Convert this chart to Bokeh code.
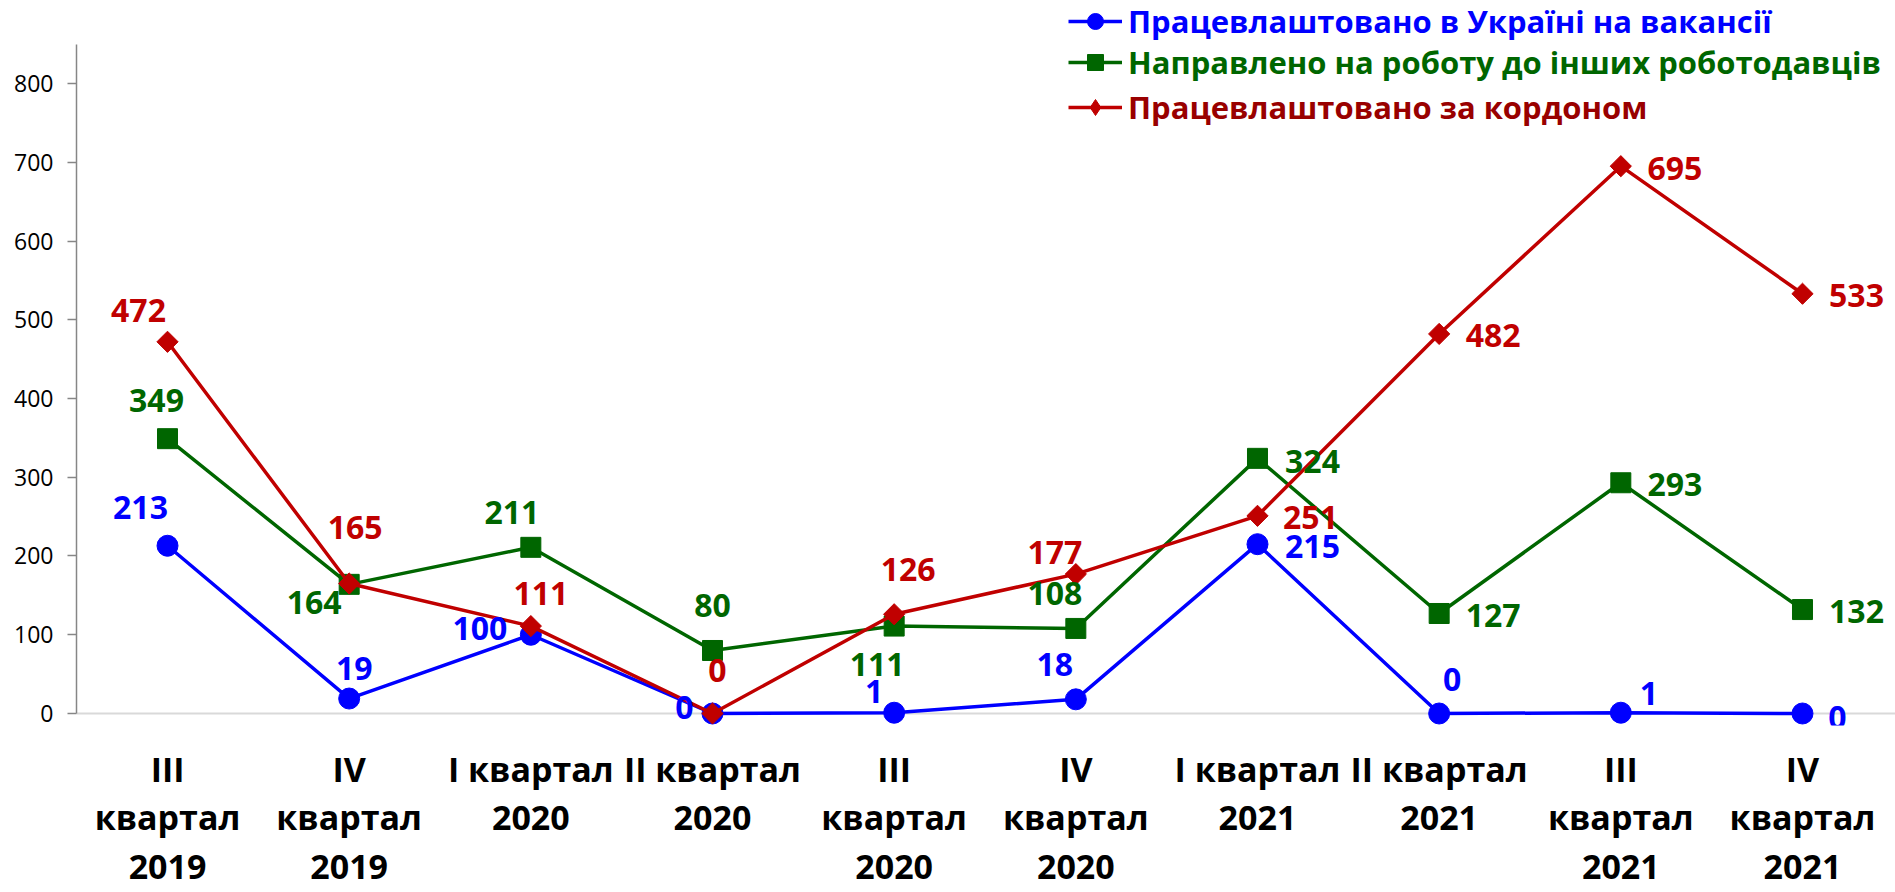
import numpy as np
from bokeh.plotting import figure
from bokeh.models import (ColumnDataSource, Range1d, FixedTicker, SingleIntervalTicker,
                          LinearAxis, Span, Legend, LegendItem)
from bokeh.core.properties import value
from bokeh.embed import file_html
from bokeh.resources import INLINE

# ---------------- data ----------------
quarters = [
    "III\nквартал\n2019", "IV\nквартал\n2019", "I квартал\n2020", "II квартал\n2020",
    "III\nквартал\n2020", "IV\nквартал\n2020", "I квартал\n2021", "II квартал\n2021",
    "III\nквартал\n2021", "IV\nквартал\n2021",
]
employed_ukraine = [213, 19, 100, 0, 1, 18, 215, 0, 1, 0]
referred_other = [349, 164, 211, 80, 111, 108, 324, 127, 293, 132]
employed_abroad = [472, 165, 111, 0, 126, 177, 251, 482, 695, 533]
series_names = [
    "Працевлаштовано в Україні на вакансії",
    "Направлено на роботу до інших роботодавців",
    "Працевлаштовано за кордоном",
]

# label offsets (screen px, dy positive = down), styles only
blue_dx = [-27, 5, -51, -28, -20, -21, 55, 13, 28, 35]
blue_dy = [-38, -30, -6, -6, -21, -35, 2, -34, -19, 4]
green_dx = [-11, -35, -19, 0, -17, -21, 55, 54, 54, 54]
green_dy = [-38, 18, -35, -45, 38, -35, 3, 2, 2, 2]
red_dx = [-29, 6, 10, 5, 14, -21, 53, 54, 54, 54]
red_dy = [-31, -56, -33, -43, -45, -22, 2, 2, 2, 2]

FONT = "Open Sans"
BLUE = "#0000FF"
GREEN = "#006600"
RED = "#C00000"

x = list(range(len(quarters)))

p = figure(width=1895, height=892, output_backend="svg", toolbar_location=None,
           x_range=Range1d(-0.501, 9.512), y_range=Range1d(-15.24, 905.4),
           min_border_left=76, min_border_right=0, min_border_top=0,
           min_border_bottom=167, x_axis_location=None, y_axis_location=None)
p.outline_line_color = None
p.xgrid.visible = False
p.ygrid.visible = False

# y axis
yaxis = LinearAxis(bounds=(0, 850), ticker=SingleIntervalTicker(interval=100, num_minor_ticks=0))
yaxis.axis_line_color = "#868686"
yaxis.axis_line_width = 1.5
yaxis.major_tick_line_color = "#868686"
yaxis.major_tick_line_width = 1.5
yaxis.major_tick_out = 9
yaxis.major_tick_in = 0
yaxis.minor_tick_out = 0
yaxis.minor_tick_in = 0
yaxis.major_label_text_font = FONT
yaxis.major_label_text_font_size = "23px"
yaxis.major_label_text_color = "black"
yaxis.major_label_standoff = 14
p.add_layout(yaxis, "left")

# x axis
xaxis = LinearAxis(ticker=FixedTicker(ticks=x),
                   major_label_overrides={i: q for i, q in zip(x, quarters)})
xaxis.axis_line_color = None
xaxis.major_tick_out = 0
xaxis.major_tick_in = 0
xaxis.minor_tick_out = 0
xaxis.minor_tick_in = 0
xaxis.major_label_text_font = FONT
xaxis.major_label_text_font_size = "34px"
xaxis.major_label_text_font_style = "bold"
xaxis.major_label_text_color = "black"
xaxis.major_label_text_line_height = 1.06
xaxis.major_label_standoff = 20
p.add_layout(xaxis, "below")

# zero line
p.add_layout(Span(location=0, dimension="width", line_color="#d9d9d9", line_width=2, level="underlay"))

series = [
    (employed_ukraine, BLUE, BLUE, "circle", 21, 0.0, blue_dx, blue_dy, BLUE, "circle"),
    (referred_other, GREEN, GREEN, "square", 20, 0.0, green_dx, green_dy, GREEN, "square"),
    (employed_abroad, RED, RED, "square", 15, np.pi / 4, red_dx, red_dy, "#990000", "diamond"),
]

renderers = []
for vals, lc, lab_c, marker, size, ang, dx, dy, leg_c, leg_marker in series:
    src = ColumnDataSource(dict(x=x, y=vals))
    l = p.line("x", "y", source=src, line_color=lc, line_width=3.5)
    leg_r = None
    if leg_marker != marker:
        # diamond drawn underneath (fully covered by the rotated square); gives the legend its diamond
        leg_r = p.scatter("x", "y", source=src, marker=leg_marker, size=19,
                          fill_color=lc, line_color=lc)
    s = p.scatter("x", "y", source=src, marker=marker, size=size, angle=ang,
                  fill_color=lc, line_color=lc)
    renderers.append((l, leg_r if leg_r is not None else s))

for (vals, lc, lab_c, marker, size, ang, dx, dy, leg_c, leg_marker) in series:
    src = ColumnDataSource(dict(x=x, y=vals, label=[str(v) for v in vals], dx=dx, dy=dy))
    p.text("x", "y", text="label", x_offset="dx", y_offset="dy", source=src,
           text_font=value(FONT), text_font_style="bold", text_font_size="32px",
           text_color=lab_c, text_align="center", text_baseline="middle")

# legends (one per series so each label keeps its own colour)
leg_y = [683, 642, 597]
for (l, s), name, sr, ly in zip(renderers, series_names, series, leg_y):
    leg = Legend(items=[LegendItem(label=name, renderers=[l, s])], location=(992, ly))
    leg.padding = 0
    leg.margin = 0
    leg.spacing = 0
    leg.border_line_alpha = 0
    leg.background_fill_alpha = 0
    leg.glyph_width = 54
    leg.glyph_height = 40
    leg.label_height = 40
    leg.label_standoff = 6
    leg.label_text_font = FONT
    leg.label_text_font_size = "31px"
    leg.label_text_font_style = "bold"
    leg.label_text_color = sr[8]
    p.add_layout(leg)

open("out.html", "w").write(file_html(p, INLINE))
